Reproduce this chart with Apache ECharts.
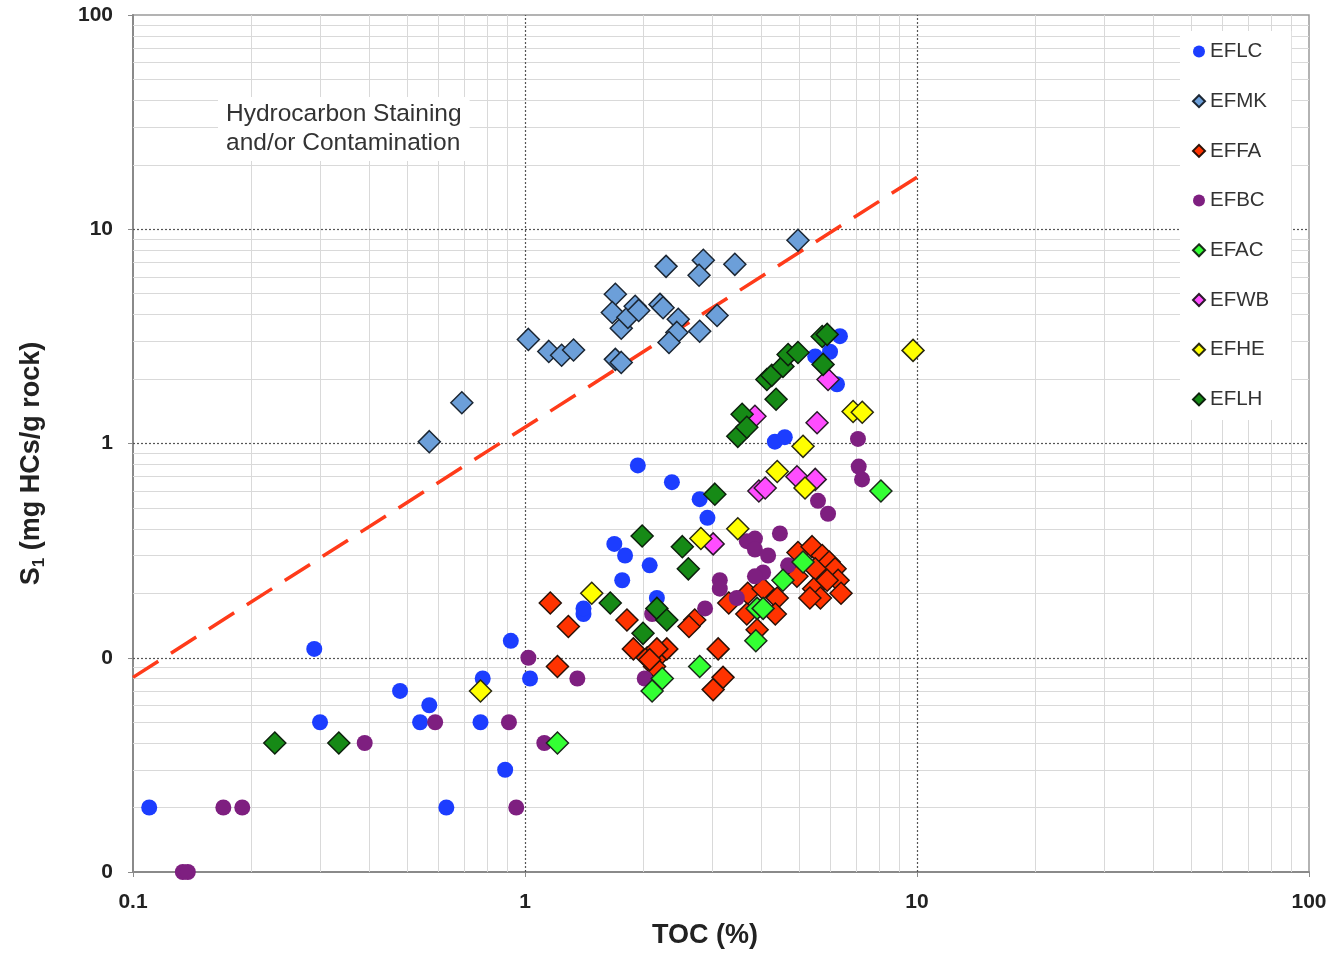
<!DOCTYPE html>
<html>
<head>
<meta charset="utf-8">
<script src="https://cdn.jsdelivr.net/npm/echarts@6/dist/echarts.min.js"></script>
<style>
html,body{margin:0;padding:0;background:#fff;}
#chart{width:1336px;height:954px;}
</style>
</head>
<body>
<div id="chart"></div>
<script>
// ---------- DATA ----------
const seriesNames = ['EFLC','EFMK','EFFA','EFBC','EFAC','EFWB','EFHE','EFLH'];

const EFLC = [[0.11,0.02],[0.29,0.11],[0.30,0.05],[0.48,0.07],[0.54,0.05],[0.57,0.06],[0.63,0.02],[0.77,0.05],[0.78,0.08],[0.89,0.03],[0.92,0.12],[1.03,0.08],[1.41,0.16],[1.41,0.17],[1.69,0.34],[1.77,0.23],[1.80,0.30],[1.82,0.15],[1.94,0.79],[2.08,0.27],[2.17,0.19],[2.37,0.66],[2.79,0.55],[2.92,0.45],[4.34,1.02],[4.60,1.07],[5.50,2.55],[6.00,2.68],[6.36,3.17],[6.25,1.89]];

const EFMK = [[0.57,1.02],[0.69,1.55],[1.02,3.06],[1.15,2.69],[1.24,2.58],[1.33,2.73],[1.70,4.97],[1.67,4.09],[1.76,3.45],[1.83,3.88],[1.91,4.37],[1.95,4.18],[2.21,4.46],[2.25,4.30],[2.29,6.71],[2.85,7.16],[2.78,6.10],[3.43,6.86],[2.46,3.80],[2.44,3.30],[2.33,2.96],[2.79,3.34],[3.09,3.96],[1.70,2.47],[1.76,2.39],[4.97,8.89]];

const EFFA = [[1.16,0.18],[1.21,0.091],[1.29,0.14],[1.82,0.15],[1.89,0.11],[2.05,0.10],[2.17,0.10],[2.30,0.11],[2.17,0.11],[2.14,0.091],[2.08,0.098],[3.11,0.11],[3.20,0.081],[3.02,0.071],[2.71,0.15],[2.62,0.14],[3.31,0.18],[3.70,0.20],[4.05,0.21],[4.40,0.19],[4.35,0.16],[3.68,0.16],[3.91,0.135],[4.97,0.31],[5.40,0.33],[5.73,0.30],[5.97,0.28],[6.18,0.26],[6.29,0.23],[6.40,0.20],[5.50,0.26],[5.45,0.21],[5.67,0.19],[5.33,0.19],[5.90,0.23],[4.94,0.24]];

const EFBC = [[0.134,0.01],[0.138,0.01],[0.17,0.02],[0.19,0.02],[0.39,0.04],[0.59,0.05],[0.91,0.05],[0.95,0.02],[1.02,0.10],[1.12,0.04],[1.36,0.08],[2.02,0.08],[2.11,0.16],[2.88,0.17],[3.14,0.23],[3.14,0.21],[3.47,0.19],[3.68,0.35],[3.86,0.36],[3.86,0.32],[4.47,0.38],[4.17,0.30],[4.69,0.27],[4.05,0.25],[3.86,0.24],[5.59,0.54],[5.93,0.47],[7.07,1.05],[7.10,0.78],[7.24,0.68]];

const EFAC = [[1.21,0.04],[2.11,0.07],[2.24,0.08],[2.79,0.091],[3.88,0.12],[3.91,0.17],[4.05,0.17],[4.55,0.23],[5.12,0.28],[8.09,0.60]];

const EFWB = [[3.86,1.34],[5.56,1.25],[5.93,1.99],[3.02,0.34],[3.95,0.60],[4.10,0.62],[4.94,0.70],[5.50,0.68]];

const EFHE = [[0.77,0.07],[1.48,0.20],[2.81,0.36],[3.49,0.40],[4.40,0.74],[5.12,0.97],[5.18,0.62],[6.87,1.41],[7.25,1.40],[9.77,2.72]];

const EFLH = [[0.23,0.04],[0.335,0.04],[1.65,0.18],[1.99,0.37],[2.00,0.13],[2.17,0.17],[2.30,0.15],[2.52,0.33],[2.61,0.26],[3.05,0.58],[3.49,1.08],[3.58,1.37],[3.68,1.19],[4.14,1.99],[4.26,2.08],[4.37,1.61],[4.55,2.29],[4.69,2.60],[4.97,2.66],[5.73,3.16],[5.90,3.23],[5.76,2.34]];

// dashed boundary line (endpoints)
const boundaryLine = [[0.1,0.081],[10,17.5]];

// axis ranges / grid values
const xRange = [0.1, 100];
const yRange = [0.01, 100];
const xMajor = [1, 10];
const yMajor = [0.1, 1, 10];
const xMinor = [0.2,0.3,0.4,0.5,0.6,0.7,0.8,0.9,2,3,4,5,6,7,8,9,20,30,40,50,60,70,80,90];
const yMinor = [0.02,0.03,0.04,0.05,0.06,0.07,0.08,0.09,0.2,0.3,0.4,0.5,0.6,0.7,0.8,0.9,2,3,4,5,6,7,8,9,20,30,40,50,60,70,80,90];

const annotation = 'Hydrocarbon Staining\nand/or Contamination';

// ---------- STYLE ----------
const FONT = '"Liberation Sans", Arial, sans-serif';
const styles = {
  EFLC: {symbol:'circle', size:16, color:'#1C3DFF', border:null},
  EFMK: {symbol:'diamond', size:22, color:'#6C9FD9', border:'#1b2633'},
  EFFA: {symbol:'diamond', size:22, color:'#FF3300', border:'#2a1208'},
  EFBC: {symbol:'circle', size:16, color:'#7E1F80', border:null},
  EFAC: {symbol:'diamond', size:22, color:'#33FF33', border:'#1a2a1a'},
  EFWB: {symbol:'diamond', size:22, color:'#FF4DFF', border:'#2a1a2a'},
  EFHE: {symbol:'diamond', size:22, color:'#FFFF00', border:'#2a2a10'},
  EFLH: {symbol:'diamond', size:22, color:'#168A16', border:'#0d200d'}
};
const dataMap = {EFLC, EFMK, EFFA, EFBC, EFAC, EFWB, EFHE, EFLH};

const chart = echarts.init(document.getElementById('chart'), null, {renderer:'canvas'});

const gridLines = [];
xMinor.forEach(v => gridLines.push({xAxis:v, lineStyle:{color:'#d9d9d9', width:1, type:'solid'}}));
yMinor.forEach(v => gridLines.push({yAxis:v, lineStyle:{color:'#d9d9d9', width:1, type:'solid'}}));
xMajor.forEach(v => gridLines.push({xAxis:v, lineStyle:{color:'#555', width:1.2, type:[2,2]}}));
yMajor.forEach(v => gridLines.push({yAxis:v, lineStyle:{color:'#555', width:1.2, type:[2,2]}}));

const series = [{
  name:'grid', type:'scatter', data:[], silent:true, z:1,
  markLine:{silent:true, z:1, symbol:['none','none'], label:{show:false}, animation:false, data:gridLines}
},{
  name:'boundary', type:'line', data:boundaryLine, showSymbol:false, symbol:'none', z:2, silent:true,
  lineStyle:{color:'#FF3B1A', width:3.5, type:[30,15]}
}];
seriesNames.forEach(n => {
  const s = styles[n];
  series.push({
    name:n, type:'scatter', data:dataMap[n], symbol:s.symbol, symbolSize:s.size, z:3,
    itemStyle: s.border ? {color:s.color, borderColor:s.border, borderWidth:1.5, opacity:1} : {color:s.color, opacity:1}
  });
});

const labelStyle = {fontFamily:FONT, fontWeight:'bold', fontSize:21, color:'#222'};

chart.setOption({
  animation:false,
  backgroundColor:'#fff',
  grid:{left:133, right:27, top:15, bottom:82, show:true, borderColor:'#9a9a9a', borderWidth:1.5, containLabel:false, outerBoundsMode:'none'},
  xAxis:{
    type:'log', logBase:10, min:xRange[0], max:xRange[1],
    name:'TOC (%)', nameLocation:'middle', nameGap:50,
    nameTextStyle:{fontFamily:FONT, fontWeight:'bold', fontSize:27, color:'#222', padding:[0,32,0,0]},
    axisLine:{show:true, onZero:false, lineStyle:{color:'#8a8a8a', width:2}},
    axisTick:{show:true, inside:false, length:5, lineStyle:{color:'#8a8a8a'}},
    axisLabel:Object.assign({margin:20, formatter:v => String(v)}, labelStyle),
    splitLine:{show:false}, minorTick:{show:false}, minorSplitLine:{show:false}
  },
  yAxis:{
    type:'log', logBase:10, min:yRange[0], max:yRange[1],
    name:'{m|S}{s|1}{m| (mg HCs/g rock)}', nameLocation:'middle', nameGap:85, nameRotate:90,
    nameTextStyle:{
      fontFamily:FONT, fontWeight:'bold', fontSize:27, color:'#222', padding:[0,40,0,0],
      rich:{
        m:{fontFamily:FONT, fontWeight:'bold', fontSize:27, color:'#222', lineHeight:32},
        s:{fontFamily:FONT, fontWeight:'bold', fontSize:17, color:'#222', verticalAlign:'bottom', lineHeight:32, padding:[13,0,0,0]}
      }
    },
    axisLine:{show:true, onZero:false, lineStyle:{color:'#8a8a8a', width:2}},
    axisTick:{show:true, inside:false, length:5, lineStyle:{color:'#8a8a8a'}},
    axisLabel:Object.assign({margin:20, formatter:v => (v < 1 ? '0' : String(Math.round(v)))}, labelStyle),
    splitLine:{show:false}, minorTick:{show:false}, minorSplitLine:{show:false}
  },
  legend:{
    data:seriesNames, orient:'vertical', left:1180, top:31, z:10,
    itemWidth:12, itemHeight:12, itemGap:28.7,
    backgroundColor:'#fff', padding:[10,22,10,12],
    textStyle:{fontFamily:FONT, fontSize:20.5, color:'#333'},
    selectedMode:false
  },
  graphic:[{
    type:'text', left:218, top:97, z:10, silent:true,
    style:{text:annotation, font:'24.5px "Liberation Sans", Arial, sans-serif', fill:'#333', lineHeight:29,
      backgroundColor:'#fff', padding:[3,8,3,8], textAlign:'left'}
  }],
  series:series
});
</script>
</body>
</html>
